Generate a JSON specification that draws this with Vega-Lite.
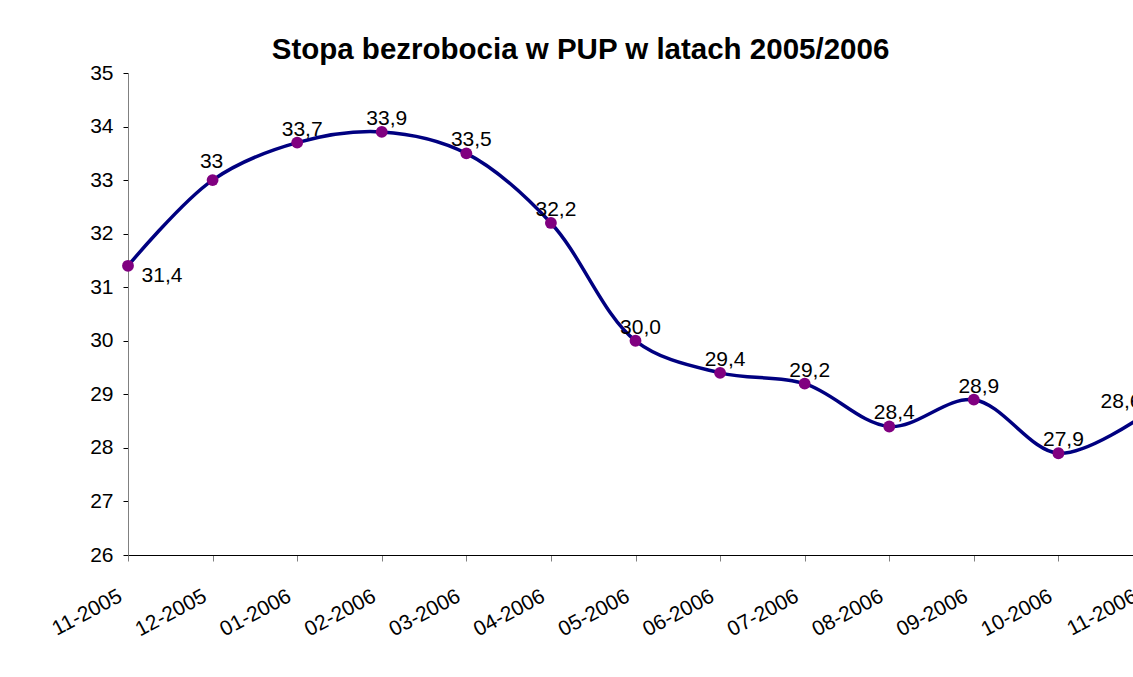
{
  "$schema": "https://vega.github.io/schema/vega-lite/v6.json",
  "width": 1005,
  "height": 482,
  "autosize": {"type": "none"},
  "padding": {"left": 128, "top": 73, "right": 0, "bottom": 122},
  "background": "white",
  "title": {
    "text": "Stopa bezrobocia w PUP w latach 2005/2006",
    "font": "Liberation Sans",
    "fontSize": 29.5,
    "fontWeight": "bold",
    "color": "black",
    "anchor": "middle",
    "dx": -50,
    "offset": -3
  },
  "config": {
    "view": {"stroke": null},
    "font": "Liberation Sans"
  },
  "data": {
    "values": [
      {"month": "11-2005", "rate": 31.4, "label": "31,4"},
      {"month": "12-2005", "rate": 33.0, "label": "33"},
      {"month": "01-2006", "rate": 33.7, "label": "33,7"},
      {"month": "02-2006", "rate": 33.9, "label": "33,9"},
      {"month": "03-2006", "rate": 33.5, "label": "33,5"},
      {"month": "04-2006", "rate": 32.2, "label": "32,2"},
      {"month": "05-2006", "rate": 30.0, "label": "30,0"},
      {"month": "06-2006", "rate": 29.4, "label": "29,4"},
      {"month": "07-2006", "rate": 29.2, "label": "29,2"},
      {"month": "08-2006", "rate": 28.4, "label": "28,4"},
      {"month": "09-2006", "rate": 28.9, "label": "28,9"},
      {"month": "10-2006", "rate": 27.9, "label": "27,9"},
      {"month": "11-2006", "rate": 28.6, "label": "28,6"}
    ]
  },
  "encoding": {
    "x": {
      "field": "month",
      "type": "ordinal",
      "sort": null,
      "scale": {"type": "point", "padding": 0, "range": [0, 1015]},
      "axis": {
        "title": null,
        "labelAngle": -28,
        "labelAlign": "right",
        "labelBaseline": "top",
        "labelPadding": 24,
        "labelOffset": -13,
        "tickSize": 6,
        "labelFontSize": 21,
        "labelFont": "Liberation Sans",
        "labelColor": "black",
        "domainColor": "black",
        "tickColor": "#808080",
        "grid": false,
        "labelOverlap": false
      }
    },
    "y": {
      "field": "rate",
      "type": "quantitative",
      "scale": {"domain": [26, 35], "nice": false, "zero": false},
      "axis": {
        "title": null,
        "values": [26, 27, 28, 29, 30, 31, 32, 33, 34, 35],
        "grid": false,
        "tickSize": 5,
        "labelPadding": 10,
        "labelFontSize": 21,
        "labelFont": "Liberation Sans",
        "labelColor": "black",
        "domainColor": "#808080",
        "tickColor": "black"
      }
    }
  },
  "layer": [
    {"mark": {"type": "line", "interpolate": "catmull-rom", "color": "#000080", "strokeWidth": 3.5}},
    {"mark": {"type": "point", "filled": true, "size": 140, "color": "#800080", "opacity": 1}},
    {
      "transform": [{"filter": "datum.month != '11-2005' && datum.month != '11-2006' && datum.month != '12-2005'"}],
      "mark": {"type": "text", "fontSize": 21, "font": "Liberation Sans", "color": "black", "align": "center", "baseline": "alphabetic", "dx": 5, "dy": -7},
      "encoding": {"text": {"field": "label"}}
    },
    {
      "transform": [{"filter": "datum.month == '12-2005'"}],
      "mark": {"type": "text", "fontSize": 21, "font": "Liberation Sans", "color": "black", "align": "center", "baseline": "alphabetic", "dx": -1, "dy": -12},
      "encoding": {"text": {"field": "label"}}
    },
    {
      "transform": [{"filter": "datum.month == '11-2005'"}],
      "mark": {"type": "text", "fontSize": 21, "font": "Liberation Sans", "color": "black", "align": "center", "baseline": "alphabetic", "dx": 34, "dy": 16},
      "encoding": {"text": {"field": "label"}}
    },
    {
      "transform": [{"filter": "datum.month == '11-2006'"}],
      "mark": {"type": "text", "fontSize": 21, "font": "Liberation Sans", "color": "black", "align": "center", "baseline": "alphabetic", "dx": -22, "dy": -8},
      "encoding": {"text": {"field": "label"}}
    }
  ]
}
